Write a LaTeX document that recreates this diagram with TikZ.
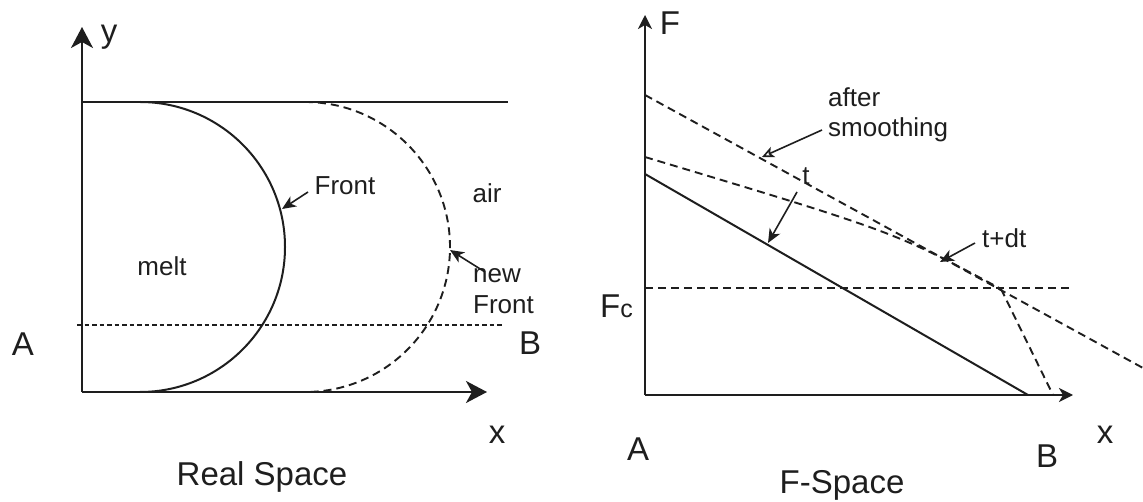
\documentclass[tikz,border=0pt]{standalone}
\usepackage{fontspec}
\setmainfont{Liberation Sans}
\usetikzlibrary{arrows.meta}
\definecolor{ink}{RGB}{30,30,30}
\newcommand\fsmall{\fontsize{26}{31}\selectfont}
\newcommand\flarge{\fontsize{33}{38}\selectfont}
\begin{document}
\begin{tikzpicture}[x=1pt,y=-1pt,line join=round,
  axis/.style={draw=ink,line width=2.3pt},
  bigaxis/.style={axis,-{Stealth[length=21pt,width=22pt,inset=6pt]}},
  smallaxis/.style={axis,-{Stealth[length=14pt,width=14pt,inset=4pt]}},
  curve/.style={draw=ink,line width=2pt},
  dsh/.style={draw=ink,line width=1.9pt,dash pattern=on 8pt off 5pt},
  dotl/.style={draw=ink,line width=1.3pt,dash pattern=on 4.5pt off 3pt},
  fcl/.style={draw=ink,line width=2.3pt,dash pattern=on 8pt off 5pt},
  ptr/.style={draw=ink,line width=1.6pt,-{Stealth[length=14pt,width=12pt,inset=4pt]}},
  optr/.style={draw=ink,line width=1.6pt,-{Stealth[open,length=12pt,width=11pt,inset=3pt]}},
  lbl/.style={text=ink,inner sep=0pt,anchor=base,font=\fsmall},
  biglbl/.style={text=ink,inner sep=0pt,anchor=base,font=\flarge}]
\useasboundingbox (0,0) rectangle (1143,502);
\clip (0,0) rectangle (1143,502);
% ---------- Real space ----------
\coordinate (O1) at (82,392);
\coordinate (Ytip) at (82,27);
\coordinate (Xtip) at (487,392);
\coordinate (TopL) at (82,102);
\coordinate (TopR) at (508,102);
\coordinate (DotL) at (77,325);
\coordinate (DotR) at (503,325);
\coordinate (FrontTop) at (140,102);
\coordinate (NewTop) at (305,102);
\draw[curve,line width=2.2pt] (TopL) -- (TopR);
\draw[dotl] (DotL) -- (DotR);
\draw[curve] (FrontTop) arc[start angle=-90,end angle=90,radius=145];
\draw[dsh] (NewTop) arc[start angle=-90,end angle=90,radius=145];
\draw[bigaxis] (O1) -- (Ytip);
\draw[bigaxis] (O1) -- (Xtip);
\node[biglbl] (ylab) at (109,43) {y};
\node[biglbl] (Aleft) at (23,356) {A};
\node[biglbl] (Bleft) at (530,355) {B};
\node[biglbl] (xleft) at (497,443) {x};
\node[biglbl] (realspace) at (262,485) {Real Space};
\node[lbl] (melt) at (162,276) {melt};
\node[lbl] (front) at (345,195) {Front};
\node[lbl] (air) at (487,203) {air};
\node[lbl,anchor=base west] (new) at (473,283) {new};
\node[lbl,anchor=base west] (newfront) at (473,314) {Front};
\coordinate (frontTail) at (308,192);
\coordinate (frontTip) at (282,209);
\coordinate (newTail) at (485,272);
\coordinate (newTip) at (450,250);
\draw[ptr] (frontTail) -- (frontTip);
\draw[ptr] (newTail) -- (newTip);
% ---------- F space ----------
\coordinate (O2) at (645,395);
\coordinate (Ftip) at (645,15);
\coordinate (X2tip) at (1073,395);
\coordinate (solidA) at (645,174);
\coordinate (solidB) at (1028,395);
\coordinate (smA) at (645,95);
\coordinate (smB) at (1143,368);
\coordinate (kink) at (1001,289);
\coordinate (kinkB) at (1053,395);
\coordinate (tdtA) at (645,157);
\coordinate (tdtC) at (895,232);
\coordinate (FcA) at (645,288);
\coordinate (FcB) at (1071,288);
\draw[curve] (solidA) -- (solidB);
\draw[dsh] (smA) -- (smB);
\draw[dsh] (tdtA) .. controls (tdtC) .. (kink);
\draw[dsh] (kink) -- (kinkB);
\draw[fcl] (FcA) -- (FcB);
\draw[smallaxis] (O2) -- (Ftip);
\draw[smallaxis] (O2) -- (X2tip);
\node[biglbl] (Flab) at (670,35) {F};
\node[biglbl,anchor=base west] (Fc) at (600,318) {F{\fontsize{25}{25}\selectfont c}};
\node[biglbl] (Aright) at (638,460) {A};
\node[biglbl] (Bright) at (1047,467) {B};
\node[biglbl] (xright) at (1105,443) {x};
\node[biglbl] (fspace) at (842,493) {F-Space};
\node[lbl,anchor=base west] (after) at (828,107) {after};
\node[lbl,anchor=base west] (smoothing) at (828,137) {smoothing};
\node[lbl] (tlab) at (806,185) {t};
\node[lbl,anchor=base west] (tdt) at (982,248) {t+dt};
\coordinate (smTail) at (822,130);
\coordinate (smTip) at (762,157);
\coordinate (tTail) at (797,192);
\coordinate (tTip) at (768,243);
\coordinate (tdtTail) at (975,243);
\coordinate (tdtTip) at (940,262);
\draw[optr] (smTail) -- (smTip);
\draw[ptr] (tTail) -- (tTip);
\draw[ptr] (tdtTail) -- (tdtTip);
\end{tikzpicture}
\end{document}
